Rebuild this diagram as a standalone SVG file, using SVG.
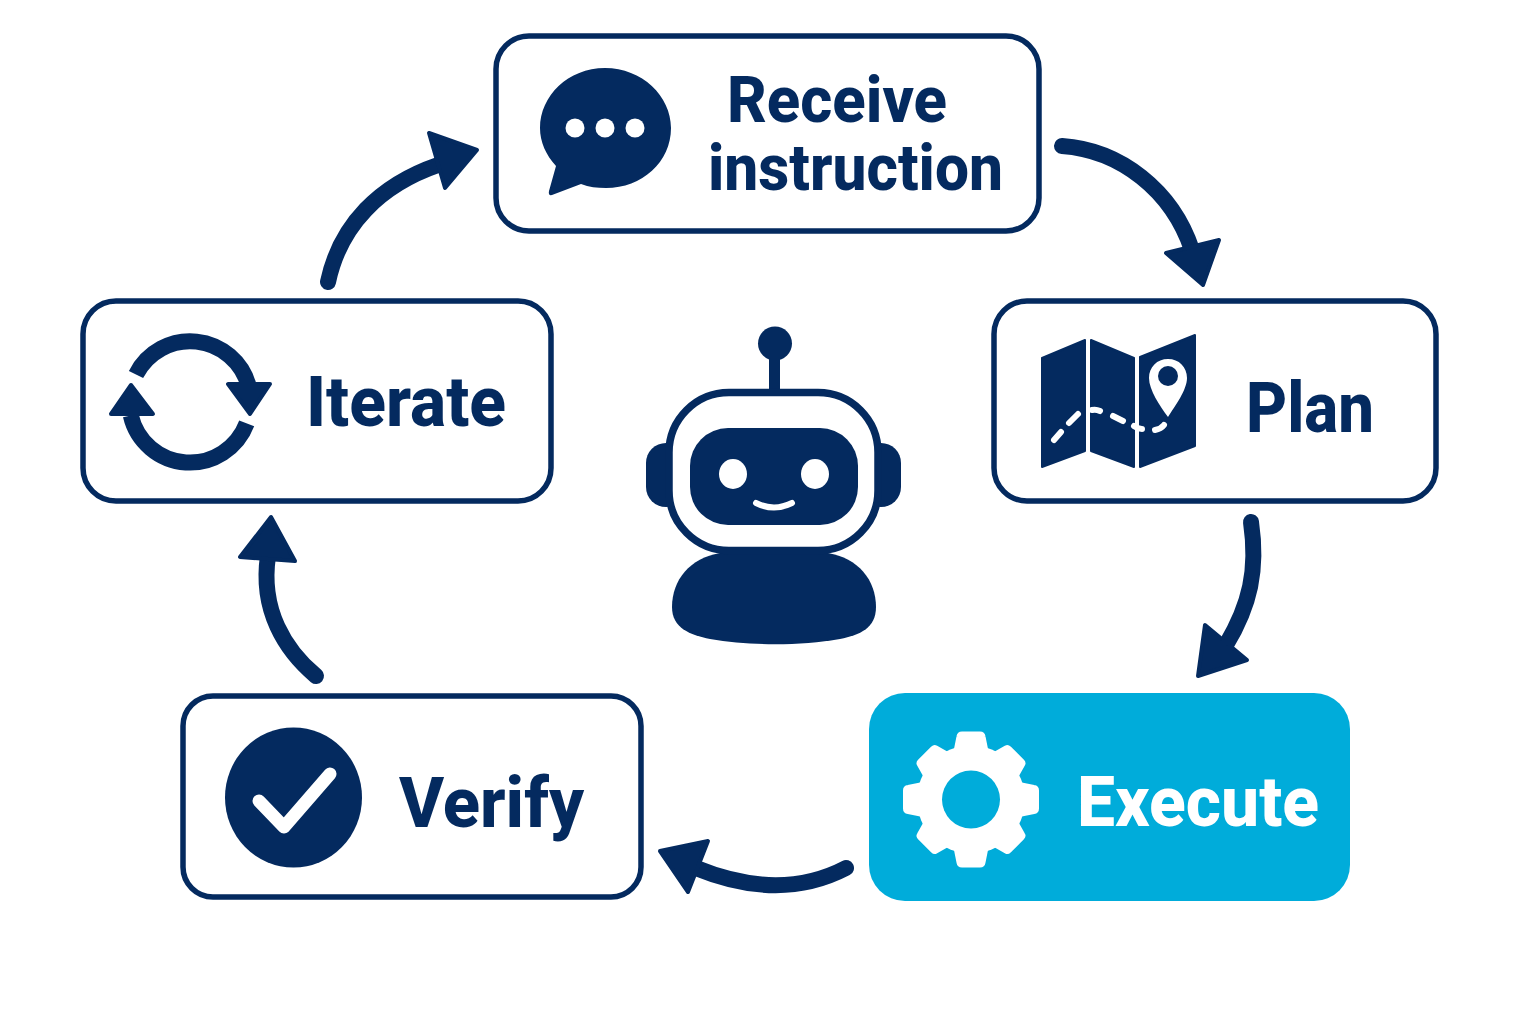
<svg xmlns="http://www.w3.org/2000/svg" width="1536" height="1024" viewBox="0 0 1536 1024">
<style>
.box{fill:#fff;stroke:#042a5f;stroke-width:5.5}
.lbl{font-family:Roboto,"Liberation Sans",sans-serif;font-weight:800;font-size:70px;fill:#042a5f}
.two{font-size:65px}
.navy{fill:#042a5f}
.white{fill:#fff}
.conn{fill:none;stroke:#042a5f;stroke-width:16;stroke-linecap:round}
.head{fill:#042a5f;stroke:#042a5f;stroke-width:4;stroke-linejoin:round}
</style>
<defs>
<path id="tooth" d="M-16 -48L-13 -63Q-12.500 -66.500 -9 -66.500L9 -66.500Q12.500 -66.500 13 -63L16 -48Z" fill="#fff" stroke="#fff" stroke-width="3" stroke-linejoin="round"/>
<path id="toothd" d="M-17 -46L-12.500 -62Q-12 -64 -9 -64L9 -64Q12 -64 12.500 -62L17 -46Z" fill="#fff" stroke="#fff" stroke-width="3" stroke-linejoin="round"/>
</defs>
<rect width="1536" height="1024" fill="#fff"/>
<g id="connectors">
<path class="conn" d="M1062 146C1120 150 1172 190 1192 250"/>
<polygon class="head" points="1219,240 1203,285 1166,253"/>
<path class="conn" d="M1251 522C1258 570 1250 605 1226 645"/>
<polygon class="head" points="1205,625 1198,676 1247,660"/>
<path class="conn" d="M846 868C800 892 750 890 696 868"/>
<polygon class="head" points="708,841 660,851 688,892"/>
<path class="conn" d="M316 676C285 650 260 610 268 556"/>
<polygon class="head" points="271,517 240,557 295,561"/>
<path class="conn" d="M328 282C340 225 380 185 438 165"/>
<polygon class="head" points="429,133 477,150 445,188"/>
</g>
<g id="receive">
<rect class="box" x="496" y="36" width="543" height="195" rx="33"/>
<path class="navy" d="M605 68C642 68 671 96 671 128C671 162 642 188 606 188C597 188 589 187 581 184L552 195Q548 196 549 191L556 166C546 155 540 142 540 128C540 96 568 68 605 68Z"/>
<circle class="white" cx="575" cy="128" r="9.500"/><circle class="white" cx="605" cy="128" r="9.500"/><circle class="white" cx="635" cy="128" r="9.500"/>
<text class="lbl two" x="727" y="122" textLength="220" lengthAdjust="spacingAndGlyphs">Receive</text>
<text class="lbl two" x="708" y="190" textLength="295" lengthAdjust="spacingAndGlyphs">instruction</text>
</g>
<g id="plan">
<rect class="box" x="994" y="301" width="442" height="200" rx="33"/>
<path class="navy" stroke="#042a5f" stroke-width="2" stroke-linejoin="round" d="M1042 358L1085 340V451L1042 467Z"/>
<path class="navy" stroke="#042a5f" stroke-width="2" stroke-linejoin="round" d="M1091 340L1134 358V467L1091 451Z"/>
<path class="navy" stroke="#042a5f" stroke-width="2" stroke-linejoin="round" d="M1140 357L1195 335V446L1140 467Z"/>
<path class="white" d="M1168 359C1179 359 1187 367 1187 378C1187 390 1175 406 1168 417C1160 406 1149 390 1149 378C1149 367 1157 359 1168 359Z"/>
<circle class="navy" cx="1168" cy="376" r="10"/>
<path fill="none" stroke="#fff" stroke-width="6" stroke-linecap="round" d="M1054 440L1061 432M1069 423L1078 414M1092 410Q1096 409 1100 411M1113 416L1123 421M1134 426Q1138 429 1142 429M1155 430Q1161 429 1164 425"/>
<text class="lbl" x="1246" y="432" textLength="128" lengthAdjust="spacingAndGlyphs">Plan</text>
</g>
<g id="execute">
<rect x="869" y="693" width="481" height="208" rx="36" fill="#00acda"/>
<g transform="translate(971 799.500)">
<use href="#tooth"/><use href="#tooth" transform="rotate(90)"/><use href="#tooth" transform="rotate(180)"/><use href="#tooth" transform="rotate(270)"/>
<use href="#toothd" transform="rotate(45)"/><use href="#toothd" transform="rotate(135)"/><use href="#toothd" transform="rotate(225)"/><use href="#toothd" transform="rotate(315)"/>
<circle r="54" fill="#fff"/><circle r="29" fill="#00acda"/>
</g>
<text class="lbl" x="1077" y="826" textLength="242" lengthAdjust="spacingAndGlyphs" style="fill:#fff">Execute</text>
</g>
<g id="verify">
<rect class="box" x="183" y="696" width="458" height="201" rx="30"/>
<ellipse class="navy" cx="293.500" cy="797.500" rx="68.500" ry="70"/>
<path fill="none" stroke="#fff" stroke-width="13" stroke-linecap="round" stroke-linejoin="round" d="M259 801L284 827L330 774"/>
<text class="lbl" x="399" y="827" textLength="185" lengthAdjust="spacingAndGlyphs">Verify</text>
</g>
<g id="iterate">
<rect class="box" x="83" y="301" width="468" height="200" rx="33"/>
<path fill="none" stroke="#042a5f" stroke-width="16" d="M136 374.500A60.700 60.700 0 0 1 248.800 386.500"/>
<path fill="none" stroke="#042a5f" stroke-width="16" d="M246.700 423.400A60.700 60.700 0 0 1 130.800 415.500"/>
<polygon class="head" points="228,384 270,384 250,414"/>
<polygon class="head" points="131,385 153,414 111,414"/>
<text class="lbl" x="306" y="426" textLength="200" lengthAdjust="spacingAndGlyphs">Iterate</text>
</g>
<g id="robot">
<circle class="navy" cx="775" cy="343.500" r="17"/>
<rect class="navy" x="769" y="355" width="11" height="38"/>
<rect class="navy" x="646" y="443" width="40" height="64" rx="20"/>
<rect class="navy" x="861" y="443" width="40" height="64" rx="20"/>
<path class="navy" d="M720 553C690 558 672 580 672 607C672 628 690 635 710 639C750 646 800 646 840 639C860 635 876 628 876 607C876 580 858 558 828 553Z"/>
<rect x="669" y="392.500" width="209" height="158" rx="60" fill="#fff" stroke="#042a5f" stroke-width="7.500"/>
<rect class="navy" x="690" y="428" width="168" height="97" rx="38"/>
<ellipse class="white" cx="733" cy="474" rx="14" ry="15"/>
<ellipse class="white" cx="815" cy="474" rx="14" ry="15"/>
<path fill="none" stroke="#fff" stroke-width="6" stroke-linecap="round" d="M756 503Q774 512 792 503"/>
</g>
</svg>
